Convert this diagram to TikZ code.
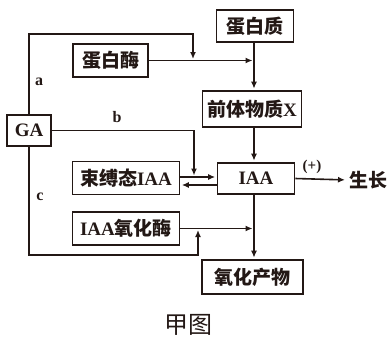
\documentclass[tikz,border=0pt]{standalone}
\usepackage{fontspec}
\setmainfont{Liberation Serif}
\newfontfamily\cjk{Noto Sans CJK SC}
\usetikzlibrary{arrows.meta}
\definecolor{ink}{HTML}{231815}
\begin{document}
\begin{tikzpicture}[x=1pt,y=-1pt,
  box/.style={draw=ink, text=ink, line width=1.6pt, minimum width=#1, minimum height=33pt, inner sep=0pt, font=\fontsize{19}{19}\selectfont\bfseries},
  box/.default=77pt,
  conn/.style={draw=ink, line width=1.6pt},
  arr/.style={conn, -{Latex[length=7pt,width=6pt]}, shorten >=1.5pt},
  lbl/.style={font=\fontsize{16}{16}\selectfont\bfseries, text=ink, inner sep=0pt},
  txt/.style={font=\fontsize{19}{19}\selectfont\bfseries, text=ink, inner sep=0pt}]
\useasboundingbox (0,0) rectangle (390,340);
% boxes
\node[box=77pt, minimum height=32pt] (prot) at (255,26) {\cjk 蛋白质};
\node[box=75pt] (enz) at (110.5,60.5) {\cjk 蛋白酶};
\node[box=99pt, minimum height=36pt] (pre) at (252,109) {{\cjk 前体物质}X};
\node[box=44pt, minimum height=31pt] (ga) at (29,130.5) {GA};
\node[box=77pt, minimum height=31pt] (iaa) at (256,178.5) {IAA};
\node[box=107pt] (bound) at (126,178) {{\cjk 束缚态}IAA};
\node[box=107pt] (oxe) at (126,228.5) {IAA{\cjk 氧化酶}};
\node[box=101pt, minimum height=34pt] (oxp) at (252.5,277) {\cjk 氧化产物};
% texts
\node[txt, anchor=west] (grow) at (349,180) {\cjk 生长};
\node[font=\fontsize{15}{15}\selectfont\bfseries, text=ink, inner sep=0pt] (plus) at (312,167) {(+)};
\node[lbl] (la) at (39,82) {a};
\node[lbl] (lb) at (117,117) {b};
\node[lbl] (lc) at (40,197) {c};
\node[font=\fontsize{24}{24}\selectfont, text=ink, inner sep=0pt] (title) at (188,325) {\cjk 甲图};
% helper coordinates
\coordinate (t) at (254,0);
\coordinate (ja) at (193,34);
\coordinate (jb) at (194,177);
\coordinate (u) at (0,177);
\coordinate (l) at (0,185);
\coordinate (jc) at (198,255);
% connectors
\draw[arr] (prot.south -| t) -- (pre.north -| t);
\draw[arr] (enz.east) -- (enz.east -| t);
\draw[arr] (ga.north) |- (ja) -- (ja |- enz.east);
\draw[arr] (pre.south -| t) -- (iaa.north -| t);
\draw[arr] (ga.east) -| (jb);
\draw[arr] (bound.east |- u) -- (iaa.west |- u);
\draw[arr] (iaa.west |- l) -- (bound.east |- l);
\draw[arr] (ga.south) |- (jc) -- (jc |- oxe.east);
\draw[arr] (oxe.east) -- (oxe.east -| t);
\draw[arr] (iaa.south -| t) -- (oxp.north -| t);
\draw[arr, shorten >=4pt] (iaa.east) -- (grow.west);
\end{tikzpicture}
\end{document}
